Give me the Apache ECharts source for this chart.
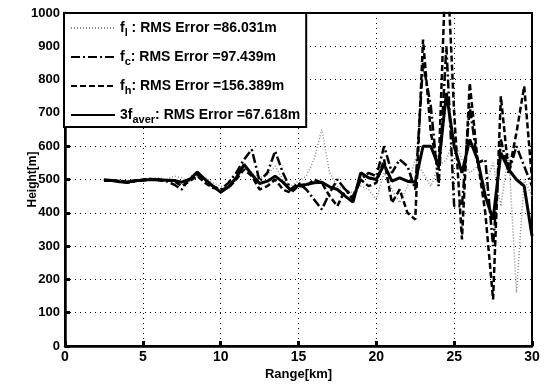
<!DOCTYPE html>
<html><head><meta charset="utf-8">
<script src="https://cdn.jsdelivr.net/npm/echarts@6/dist/echarts.min.js"></script>
<style>html,body{margin:0;padding:0;background:#fff}#c{width:546px;height:387px}</style>
</head><body><div id="c"></div>
<script>
const rangeKm = [2.5,3,3.5,4,4.5,5,5.5,6,6.5,7,7.5,8,8.5,9,9.5,10,10.5,11,11.5,12,12.5,13,13.5,14,14.5,15,15.5,16,16.5,17,17.5,18,18.5,19,19.5,20,20.5,21,21.5,22,22.5,23,23.5,24,24.5,25,25.5,26,26.5,27,27.5,28,28.5,29,29.5,30];
const fL = [500,500,498,497,500,500,503,505,500,510,505,495,510,505,490,480,470,500,540,520,505,515,540,500,480,495,510,560,650,520,480,470,460,480,470,440,520,470,430,480,560,520,480,540,560,620,560,520,540,480,550,420,580,160,500,450];
const fC = [500,498,495,490,495,500,502,498,495,485,470,505,515,495,480,470,490,520,560,590,495,520,585,520,470,490,470,440,410,460,500,470,440,500,520,510,600,520,560,540,470,850,720,480,900,420,420,720,550,560,300,620,520,600,540,480];
const fH = [498,497,495,493,495,497,500,500,497,495,480,495,510,490,475,470,475,500,530,510,470,480,500,470,460,480,480,500,490,450,420,470,450,500,480,490,560,430,470,400,380,920,640,530,1200,700,320,790,560,400,140,750,520,640,780,500];
const fAver = [497,497,493,492,497,498,500,499,498,497,492,500,522,500,480,462,478,505,545,515,488,495,510,492,468,482,485,490,492,478,470,450,432,520,505,500,545,495,505,495,492,600,600,540,760,600,520,620,560,450,380,580,530,500,480,330];
const legendNames = ['fl','fc','fh','aver'];
const legendSub = {fl:['f','l',' : RMS Error =86.031m'], fc:['f','c',': RMS Error =97.439m'], fh:['f','h',': RMS Error =156.389m'], aver:['3f','aver',': RMS Error =67.618m']};
const xTicks = [0,5,10,15,20,25,30];
const yTicks = [0,100,200,300,400,500,600,700,800,900,1000];

const FONT = "'Liberation Sans',Arial,sans-serif";
function pairs(arr){ return rangeKm.map((x,i)=>[x,arr[i]]); }
const chart = echarts.init(document.getElementById('c'));
chart.setOption({
  animation:false,
  grid:{left:65,right:14,top:13,bottom:41,show:true,borderColor:'#000',borderWidth:2,backgroundColor:'#fff',z:0},
  legend:{
    data:legendNames, orient:'vertical', left:64, top:13,
    backgroundColor:'#fff', borderColor:'#000', borderWidth:2, padding:[8,6,2,6],
    itemWidth:44, itemHeight:12, itemGap:12,
    itemStyle:{opacity:0},
    formatter:function(n){const s=legendSub[n];return '{a|'+s[0]+'}{s|'+s[1]+'}{a|'+s[2]+'}';},
    textStyle:{fontFamily:FONT,fontWeight:'bold',fontSize:14,color:'#000',
      rich:{a:{fontFamily:FONT,fontWeight:'bold',fontSize:14,color:'#000'},
            s:{fontFamily:FONT,fontWeight:'bold',fontSize:11,color:'#000',verticalAlign:'bottom',padding:[9,0,0,0]}}}
  },
  xAxis:{type:'value',min:0,max:30,interval:5,
    name:'Range[km]',nameLocation:'middle',nameGap:22,nameMoveOverlap:false,
    nameTextStyle:{fontFamily:FONT,fontWeight:'bold',fontSize:13,color:'#000'},
    axisLine:{lineStyle:{color:'#000',width:2.5}},
    axisTick:{inside:true,length:5,lineStyle:{color:'#000',width:3}},
    axisLabel:{fontFamily:FONT,fontWeight:'bold',fontSize:14,color:'#000',margin:4,formatter:function(v){return String(v);}},
    splitLine:{show:true,lineStyle:{color:'#000',type:[1,4],width:1}}},
  yAxis:{type:'value',min:0,max:1000,interval:100,
    name:'Height[m]',nameLocation:'middle',nameGap:26,nameRotate:90,nameMoveOverlap:false,
    nameTextStyle:{fontFamily:FONT,fontWeight:'bold',fontSize:12,color:'#000'},
    axisLine:{lineStyle:{color:'#000',width:2.5}},
    axisTick:{inside:true,length:5,lineStyle:{color:'#000',width:3}},
    axisLabel:{fontFamily:FONT,fontWeight:'bold',fontSize:13,color:'#000',margin:5,formatter:function(v){return String(v);}},
    splitLine:{show:true,lineStyle:{color:'#000',type:[1,4],width:1}}},
  series:[
    {name:'fl',type:'line',data:pairs(fL),showSymbol:false,symbol:'none',clip:true,lineStyle:{color:'#888',width:1.5,type:[1,2]},itemStyle:{color:'#888'},z:2},
    {name:'fc',type:'line',data:pairs(fC),showSymbol:false,symbol:'none',clip:true,lineStyle:{color:'#000',width:2.5,type:[9,3,2,3]},itemStyle:{color:'#000'},z:3},
    {name:'fh',type:'line',data:pairs(fH),showSymbol:false,symbol:'none',clip:true,lineStyle:{color:'#000',width:2.5,type:[6,3]},itemStyle:{color:'#000'},z:4},
    {name:'aver',type:'line',data:pairs(fAver),showSymbol:false,symbol:'none',clip:true,lineStyle:{color:'#000',width:3},itemStyle:{color:'#000'},z:5}
  ]
});
</script></body></html>
